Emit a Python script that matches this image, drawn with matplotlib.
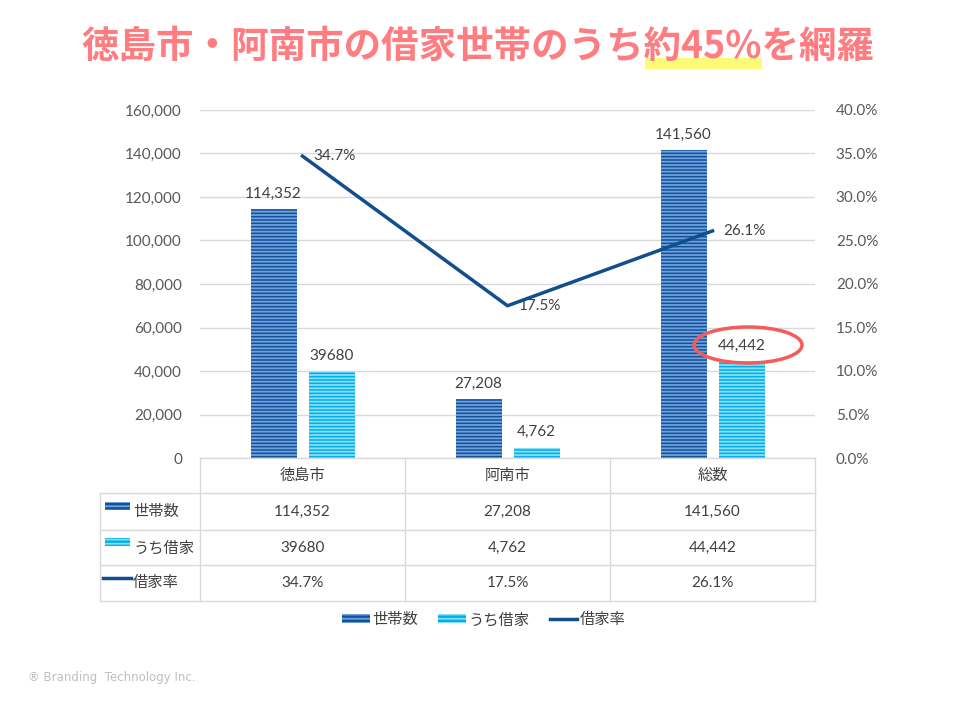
import matplotlib
matplotlib.use("Agg")
import matplotlib.pyplot as plt
from matplotlib.patches import Rectangle, Ellipse, Patch
from matplotlib.lines import Line2D
from matplotlib.transforms import blended_transform_factory
from matplotlib.ticker import FuncFormatter, MultipleLocator

# ---- data ----
categories = ["徳島市", "阿南市", "総数"]
households = [114352, 27208, 141560]
rentals = [39680, 4762, 44442]
rental_rate = [34.7, 17.5, 26.1]
household_labels = ["114,352", "27,208", "141,560"]
rental_labels = ["39680", "4,762", "44,442"]
rate_labels = ["34.7%", "17.5%", "26.1%"]
series_names = ["世帯数", "うち借家", "借家率"]
title = "徳島市・阿南市の借家世帯のうち約45%を網羅"

plt.rcParams['font.family'] = ['Lato', 'Noto Sans CJK JP', 'DejaVu Sans']
plt.rcParams['hatch.linewidth'] = 1.3

W, H = 960, 704
fig = plt.figure(figsize=(W / 100, H / 100), dpi=100)

def fx(x):
    return x / W

def fy(y):
    return 1 - y / H

DARK_FACE, DARK_HATCH = "#15509c", "#6ea2dc"
LIGHT_FACE, LIGHT_HATCH = "#00aee8", "#86def9"
LINE_C = "#124e8c"
TXT = "#404040"
GRID = "#d9d9d9"
HATCH = "-----"
SW_HATCH = "----"

ax = fig.add_axes([fx(200), fy(458), fx(815) - fx(200), (458 - 110) / H])
x = list(range(len(categories)))
off = 29 / 205
bw = 46 / 205
xs1 = [i - off for i in x]
xs2 = [i + off for i in x]
b1 = ax.bar(xs1, households, width=bw, facecolor=DARK_FACE, edgecolor=DARK_HATCH,
            linewidth=0, hatch=HATCH, zorder=3)
b2 = ax.bar(xs2, rentals, width=bw, facecolor=LIGHT_FACE, edgecolor=LIGHT_HATCH,
            linewidth=0, hatch=HATCH, zorder=3)
ax.set_xlim(-0.5, 2.5)
ax.set_ylim(0, 160000)
ax.yaxis.set_major_locator(MultipleLocator(20000))
ax.yaxis.set_major_formatter(FuncFormatter(lambda v, p: f"{int(v):,}"))
ax.grid(axis='y', color=GRID, linewidth=1, zorder=0)
ax.set_xticks([])
for s in ax.spines.values():
    s.set_visible(False)
ax.tick_params(axis='y', length=0, pad=13, labelsize=11, labelcolor="#595959")

for xi, v, lab in zip(xs1, households, household_labels):
    ax.annotate(lab, (xi, v), xytext=(0, 6), textcoords='offset points',
                ha='center', va='bottom', fontsize=11, color=TXT)
for xi, v, lab in zip(xs2, rentals, rental_labels):
    ax.annotate(lab, (xi, v), xytext=(0, 6), textcoords='offset points',
                ha='center', va='bottom', fontsize=11, color=TXT)

ax2 = ax.twinx()
ax2.set_ylim(0, 40)
ax2.yaxis.set_major_locator(MultipleLocator(5))
ax2.yaxis.set_major_formatter(FuncFormatter(lambda v, p: f"{v:.1f}%"))
for s in ax2.spines.values():
    s.set_visible(False)
ax2.tick_params(axis='y', length=0, pad=15, labelsize=11, labelcolor="#595959")
ax2.plot(x, rental_rate, color=LINE_C, linewidth=2.5, zorder=4)
for xi, v, lab in zip(x, rental_rate, rate_labels):
    ax2.annotate(lab, (xi, v), xytext=(8, 0), textcoords='offset points',
                 ha='left', va='center', fontsize=11, color=TXT)

# red ellipse around total rentals label
fig.add_artist(Ellipse((fx(748), fy(345)), 108 / W, 36 / H, transform=fig.transFigure,
                       fill=False, edgecolor="#f45b5b", linewidth=2.5, zorder=10))

# ---- data table ----
def hline(y, x0, x1):
    fig.add_artist(Line2D([fx(x0), fx(x1)], [fy(y), fy(y)], color=GRID, linewidth=1))

def vline(xp, y0, y1):
    fig.add_artist(Line2D([fx(xp), fx(xp)], [fy(y0), fy(y1)], color=GRID, linewidth=1))

hline(458, 200, 815)
for yy in (493, 530, 565, 601):
    hline(yy, 100, 815)
for xp in (200, 405, 610, 815):
    vline(xp, 458, 601)
vline(100, 493, 601)

bt = blended_transform_factory(ax.transData, fig.transFigure)
for xi, c in zip(x, categories):
    fig.text(xi, fy(476), c, transform=bt, ha='center', va='center', fontsize=11, color=TXT)
rows = [household_labels, rental_labels, rate_labels]
row_y = [512, 548, 583]
for labs, yy in zip(rows, row_y):
    for xi, lab in zip(x, labs):
        fig.text(xi, fy(yy), lab, transform=bt, ha='center', va='center', fontsize=11, color=TXT)

# row headers with swatches
for (face, hc), yy, name in zip([(DARK_FACE, DARK_HATCH), (LIGHT_FACE, LIGHT_HATCH)],
                                row_y[:2], series_names[:2]):
    fig.add_artist(Rectangle((fx(105), fy(yy - 2)), 25 / W, 8 / H, transform=fig.transFigure,
                             facecolor=face, edgecolor=hc, linewidth=0, hatch=SW_HATCH))
    fig.text(fx(133), fy(yy), name, ha='left', va='center', fontsize=11, color=TXT)
fig.add_artist(Line2D([fx(103), fx(131)], [fy(row_y[2] - 5), fy(row_y[2] - 5)],
                      color=LINE_C, linewidth=2.5))
fig.text(fx(133), fy(row_y[2]), series_names[2], ha='left', va='center', fontsize=11, color=TXT)

# ---- legend ----
handles = [Patch(facecolor=DARK_FACE, edgecolor=DARK_HATCH, linewidth=0, hatch=SW_HATCH),
           Patch(facecolor=LIGHT_FACE, edgecolor=LIGHT_HATCH, linewidth=0, hatch=SW_HATCH),
           Line2D([0], [0], color=LINE_C, linewidth=2.5)]
leg = fig.legend(handles, series_names, loc='center', bbox_to_anchor=(fx(484), fy(620)),
                 ncol=3, frameon=False, fontsize=11, handlelength=1.8, handleheight=0.5,
                 handletextpad=0.2, columnspacing=1.3)
for t in leg.get_texts():
    t.set_color(TXT)

# ---- title ----
fig.add_artist(Rectangle((fx(645), fy(69)), (762 - 645) / W, 11 / H, transform=fig.transFigure,
                         facecolor="#fbfb78", edgecolor='none', zorder=0))
fig.text(fx(478), fy(46), title, ha='center', va='center', fontsize=27, fontweight='bold',
         color="#ff7c80", family=['Noto Sans CJK JP', 'DejaVu Sans'], zorder=2)

# footer
fig.text(fx(28), fy(677), "® Branding  Technology Inc.", ha='left', va='center',
         fontsize=8.5, color="#bfbfbf", family=['DejaVu Sans'])

fig.savefig("out.png", dpi=100)
